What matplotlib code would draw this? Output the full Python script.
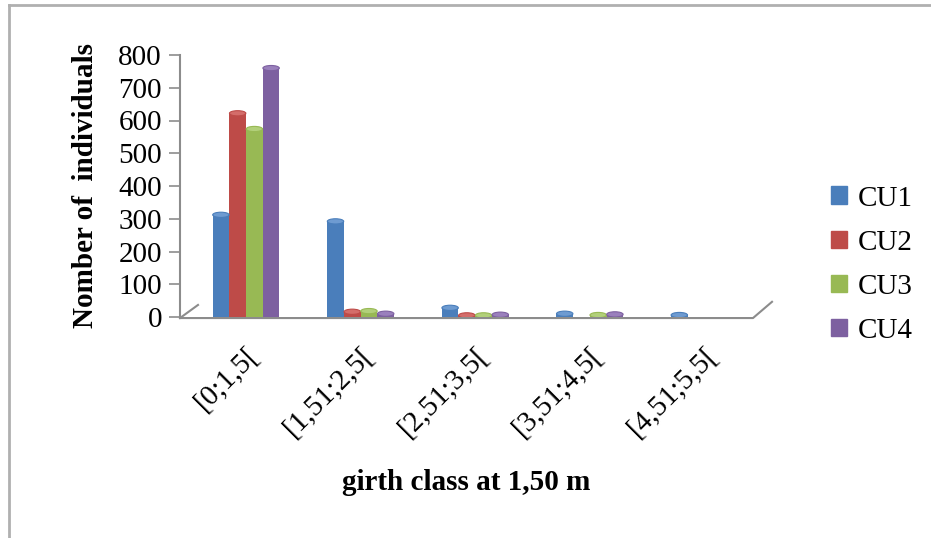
import matplotlib
matplotlib.use("Agg")
import matplotlib.pyplot as plt
from matplotlib.patches import Ellipse, Rectangle
from matplotlib.lines import Line2D
import numpy as np

plt.rcParams['font.family'] = ['Liberation Serif', 'DejaVu Serif']

classes = ['[0;1,5[', '[1,51;2,5[', '[2,51;3,5[', '[3,51;4,5[', '[4,51;5,5[']
series = ['CU1', 'CU2', 'CU3', 'CU4']
cu1 = [312, 292, 28, 10, 6]
cu2 = [622, 16, 5, 0, 0]
cu3 = [574, 18, 5, 6, 0]
cu4 = [760, 10, 7, 8, 0]
values = [cu1, cu2, cu3, cu4]
colors = ['#4A7EBB', '#BE4B48', '#98B954', '#7D60A0']
caps = ['#6E9BD1', '#D46D6A', '#B2D07A', '#9A80BC']

fig = plt.figure(figsize=(9.31, 5.38), dpi=100)
ax = fig.add_axes([180/931, 1 - 317/538, 573/931, 262/538])

w = 0.146
shift = 0.076
x = np.arange(len(classes))
for j, vals in enumerate(values):
    xs = x + shift + (j - 1.5) * w
    ax.bar(xs, vals, width=w, color=colors[j], edgecolor='none', zorder=2)
    for xi, v in zip(xs, vals):
        if v > 0:
            ax.add_patch(Ellipse((xi, v), w * 0.98, 16, facecolor=caps[j],
                                 edgecolor=colors[j], lw=0.8, zorder=3))

ax.set_xlim(-0.5, 4.5)
ax.set_ylim(0, 800)
ax.set_yticks(range(0, 801, 100))
ax.set_xticks(x + shift)
ax.set_xticklabels(classes, rotation=45, ha='right', va='top',
                   rotation_mode='anchor', fontsize=21)
ax.tick_params(axis='x', length=0, pad=18)
ax.tick_params(axis='y', direction='out', length=8, width=1.2,
               color='#8c8c8c', labelsize=21, pad=5)
for s in ['top', 'right', 'bottom']:
    ax.spines[s].set_visible(False)
ax.spines['left'].set_color('#8c8c8c')
ax.spines['left'].set_linewidth(1.5)

# floor edge of the 3D chart
floor = dict(color='#8c8c8c', lw=1.5, transform=ax.transAxes, clip_on=False)
ax.add_line(Line2D([0, 1, 1 + 19/573], [-0.004, -0.004, 0.058], **floor))
ax.add_line(Line2D([0, 18/573], [-0.004, 0.046], **floor))

ax.set_ylabel('Nomber of  individuals', fontsize=21, fontweight='bold', labelpad=14)
ax.set_xlabel('girth class at 1,50 m', fontsize=21, fontweight='bold', labelpad=20)

handles = [Rectangle((0, 0), 1, 1, color=c) for c in colors]
fig.legend(handles, series, loc='center left', bbox_to_anchor=(0.893, 0.508),
           frameon=False, fontsize=21, handlelength=0.55, handleheight=0.55,
           handletextpad=0.35, labelspacing=0.62, borderaxespad=0, borderpad=0)

# outer frame
fig.add_artist(Line2D([9/931, 9/931], [0, 1 - 5/538], color='#b0b0b0', lw=2,
                      transform=fig.transFigure))
fig.add_artist(Line2D([9/931, 1], [1 - 5/538, 1 - 5/538], color='#b0b0b0', lw=2,
                      transform=fig.transFigure))

fig.savefig('out.png', dpi=100)
